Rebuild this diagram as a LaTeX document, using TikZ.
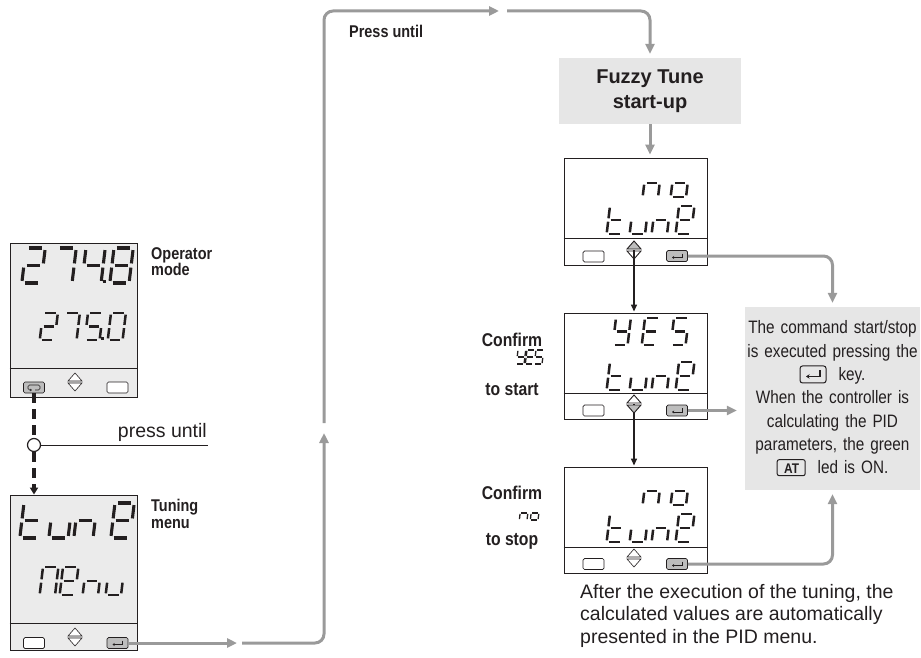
\documentclass[tikz,border=0pt]{standalone}
\usepackage{fontspec}
\setmainfont{Liberation Sans}
\newfontfamily\condf[FakeStretch=0.85]{Liberation Sans}
\usetikzlibrary{arrows.meta,calc}
\definecolor{lineGrey}{HTML}{9A9A9A}
\definecolor{boxGrey}{HTML}{E6E6E6}
\definecolor{lcdbg}{HTML}{EBEBEB}
\definecolor{keyfill}{HTML}{BDBDBD}
\definecolor{ink}{HTML}{231F20}
% seven segment paths (unit: digit height, y downwards)
\def\sega{(0.08,0)--(0.47,0)}
\def\segb{(0.55,0.06)--(0.55,0.44)}
\def\segc{(0.55,0.56)--(0.55,0.94)}
\def\segd{(0.08,1)--(0.47,1)}
\def\sege{(0,0.56)--(0,0.94)}
\def\segf{(0,0.06)--(0,0.44)}
\def\segg{(0.08,0.5)--(0.47,0.5)}
\newcommand\lcdch[5]{%
  \begin{scope}[shift={(#1,#2)}, x={(#3pt,0pt)}, y={({-0.12*#3pt},{-#3pt})}, line width=#4pt, draw=ink, line cap=butt]
    \foreach \s in {#5}{\expandafter\draw\csname seg\s\endcsname;}
  \end{scope}}
\newcommand\chev[4]{% coordinate, up fill, down fill, line widths
  \draw[ink, line width=#4pt, fill=#2] ($(#1)+(-7,-1)$) -- ($(#1)+(0,-9)$) -- ($(#1)+(7,-1)$) -- cycle;
  \draw[ink, line width=#4pt, fill=#3] ($(#1)+(-7,1)$) -- ($(#1)+(0,9)$) -- ($(#1)+(7,1)$) -- cycle;}
\newcommand\entsym[1]{%
  \draw[ink, line width=0.7pt, -{Stealth[length=2.2pt,width=3pt]}] ([xshift=5pt,yshift=2.5pt]#1.center) -- ([xshift=5pt,yshift=-1.5pt]#1.center) -- ([xshift=-5pt,yshift=-1.5pt]#1.center);}
\newcommand\entkey{\tikz[baseline=-6pt, x=1pt, y=1pt]{\draw[ink, line width=1pt, rounded corners=2.5pt] (-13,-8.5) rectangle (13,8.5); \draw[ink, line width=1.3pt, -{Stealth[length=3.5pt,width=4.5pt]}] (7,4) -- (7,-2) -- (-7,-2);}}
\newcommand\atkey{\tikz[baseline=-6pt, x=1pt, y=1pt]{\draw[ink, line width=1pt, rounded corners=2pt] (-14,-8) rectangle (14,8);}\hspace{-28pt}\makebox[28pt]{\condf\bfseries\fontsize{14}{14}\selectfont AT}}
\tikzset{
  lcd/.style={draw=ink, line width=0.9pt, inner sep=0pt},
  lcdsplit/.style={draw=ink, line width=0.9pt},
  keyb/.style={draw=ink, line width=0.7pt, rounded corners=1.5pt, minimum width=21pt, minimum height=11pt, inner sep=0pt, fill=white},
  keyg/.style={keyb, fill=keyfill},
  gpath/.style={draw=lineGrey, line width=3pt, -{Triangle[length=10pt,width=9pt]}},
  barrow/.style={draw=ink, line width=1.4pt, -{Triangle[length=7pt,width=6pt]}},
  dashline/.style={draw=ink, line width=3.2pt, dash pattern=on 10pt off 6pt},
  lbl/.style={inner sep=0pt, align=left, font=\condf\bfseries\fontsize{17}{16.5}\selectfont},
  clbl/.style={inner sep=0pt, font=\condf\bfseries\fontsize{18.5}{20}\selectfont},
  greybox/.style={fill=boxGrey, inner sep=0pt}
}
\begin{document}
\begin{tikzpicture}[x=1pt, y=-1pt, color=ink]
\useasboundingbox (0,0) rectangle (921,658);

% ---------------- Operator mode display
\node[lcd, fill=lcdbg, minimum width=127pt, minimum height=154pt] (op) at (73.5,320) {};
\draw[lcdsplit] ([yshift=29pt]op.south west) -- ([yshift=29pt]op.south east);
\lcdch{26}{248}{35}{3.1}{a,b,g,e,d}
\lcdch{57}{248}{35}{3.1}{a,b,c}
\lcdch{86}{248}{35}{3.1}{f,g,b,c}
\lcdch{114}{248}{35}{3.1}{a,b,c,d,e,f,g}
\fill[ink] (102.5,280) rectangle (105.5,283);
\lcdch{43}{313}{27}{2.5}{a,b,g,e,d}
\lcdch{65}{313}{27}{2.5}{a,b,c}
\lcdch{88}{313}{27}{2.5}{a,f,g,c,d}
\lcdch{111}{313}{27}{2.5}{a,b,c,d,e,f}
\fill[ink] (101,337) rectangle (104,340);
\node[keyg] (opk1) at (34,387.5) {};
\draw[ink, line width=0.7pt, rounded corners=1.5pt, -{Stealth[length=2pt,width=2.6pt]}] ([xshift=1pt,yshift=-2.5pt]opk1.center) -- ([xshift=6pt,yshift=-2.5pt]opk1.center) -- ([xshift=6pt,yshift=2.5pt]opk1.center) -- ([xshift=-6pt,yshift=2.5pt]opk1.center) -- ([xshift=-6pt,yshift=-2.5pt]opk1.center) -- ([xshift=-2pt,yshift=-2.5pt]opk1.center);
\coordinate (opud) at (75,382);
\chev{opud}{white}{white}{0.6}
\node[keyb] (opk3) at (117.5,387.5) {};
\node[lbl, anchor=north west] (oplbl) at (151,247) {Operator\\mode};

% dashed connection
\node[circle, draw=ink, line width=1.2pt, fill=white, minimum size=13pt, inner sep=0pt] (c1) at (34,445) {};
\draw[dashline] (opk1.south) -- (c1.north);
\coordinate (pu) at (208,445);
\draw[ink, line width=1pt] (c1.east) -- (pu);
\node[anchor=base east, inner sep=0pt, font=\fontsize{19.5}{22}\selectfont] (putxt) at (207,437) {press until};

% ---------------- Tuning menu display
\node[lcd, fill=lcdbg, minimum width=127pt, minimum height=155pt] (tun) at (73.5,572.5) {};
\draw[dashline, -{Triangle[length=7pt,width=8pt]}] (c1.south) -- (tun.north -| c1);
\draw[lcdsplit] ([yshift=27pt]tun.south west) -- ([yshift=27pt]tun.south east);
\lcdch{24}{503}{35}{3.1}{f,e,d,g}
\lcdch{53}{503}{35}{3.1}{e,d,c}
\lcdch{78}{503}{35}{3.1}{e,g,c}
\lcdch{115}{503}{35}{3.1}{a,b,f,g,e,d}
\lcdch{43}{567}{28}{2.5}{a,b,c,e,f}
\lcdch{63}{567}{28}{2.5}{a,b,f,g,e,d}
\lcdch{86}{567}{28}{2.5}{e,g,c}
\lcdch{109}{567}{28}{2.5}{e,d,c}
\node[keyb] (tk1) at (34,643) {};
\coordinate (tud) at (75,637);
\chev{tud}{white}{white}{0.6}
\node[keyg] (tk3) at (117.5,643) {};
\entsym{tk3}
\node[lbl, anchor=north west] (tulbl) at (151,499) {Tuning\\menu};

% ---------------- grey route to Fuzzy Tune
\node[greybox, minimum width=182pt, minimum height=66pt, align=center, font=\bfseries\fontsize{20}{25}\selectfont] (fz) at (650,91) {Fuzzy Tune\\start-up};
\coordinate (g1) at (237,0);
\coordinate (g1b) at (242,0);
\coordinate (g2) at (324,433);
\coordinate (g2b) at (324,423);
\coordinate (g3) at (499,11);
\coordinate (g3b) at (507,11);
\draw[gpath] (tk3.east) -- (tk3.east -| g1);
\draw[gpath, rounded corners=9pt] (tk3.east -| g1b) -| (g2);
\draw[gpath, rounded corners=9pt] (g2b) |- (g3);
\draw[gpath, rounded corners=9pt] (g3b) -| ([yshift=4pt]fz.north);
\node[lbl, anchor=west] (pressu) at (349,31) {Press until};

% ---------------- right displays
\node[lcd, fill=white, minimum width=143pt, minimum height=107pt] (d1) at (635.5,211.5) {};
\draw[lcdsplit] ([yshift=27pt]d1.south west) -- ([yshift=27pt]d1.south east);
\node[lcd, fill=white, minimum width=143pt, minimum height=106pt] (d2) at (635.5,366) {};
\draw[lcdsplit] ([yshift=26pt]d2.south west) -- ([yshift=26pt]d2.south east);
\node[lcd, fill=white, minimum width=143pt, minimum height=106pt] (d3) at (635.5,520) {};
\draw[lcdsplit] ([yshift=26pt]d3.south west) -- ([yshift=26pt]d3.south east);

\draw[gpath] (fz.south) -- ([yshift=3pt]fz.south |- d1.north);

% d1: no / tunE
\lcdch{646}{169}{28}{2.5}{e,g,c}
\lcdch{674}{169}{28}{2.5}{g,c,d,e}
\lcdch{610}{206}{28}{2.5}{f,e,d,g}
\lcdch{633}{206}{28}{2.5}{e,d,c}
\lcdch{655}{206}{28}{2.5}{e,g,c}
\lcdch{679}{206}{28}{2.5}{a,b,f,g,e,d}
\node[keyb] (d1k1) at (593.5,256.5) {};
\coordinate (d1ud) at (634,250);
\node[keyg] (d1k3) at (677,256) {};
\entsym{d1k3}

% d2: YES / tunE
\lcdch{616}{318}{27}{2.5}{f,b,g,c,d}
\lcdch{645}{318}{27}{2.5}{a,f,g,e,d}
\lcdch{674}{318}{27}{2.5}{a,f,g,c,d}
\lcdch{610}{362}{28}{2.5}{f,e,d,g}
\lcdch{633}{362}{28}{2.5}{e,d,c}
\lcdch{655}{362}{28}{2.5}{e,g,c}
\lcdch{679}{362}{28}{2.5}{a,b,f,g,e,d}
\node[keyb] (d2k1) at (593.5,410.5) {};
\coordinate (d2ud) at (634,404);
\node[keyg] (d2k3) at (677,410.5) {};
\entsym{d2k3}

% d3: no / tunE
\lcdch{646}{477}{28}{2.5}{e,g,c}
\lcdch{674}{477}{28}{2.5}{g,c,d,e}
\lcdch{610}{514}{28}{2.5}{f,e,d,g}
\lcdch{633}{514}{28}{2.5}{e,d,c}
\lcdch{655}{514}{28}{2.5}{e,g,c}
\lcdch{679}{514}{28}{2.5}{a,b,f,g,e,d}
\node[keyb] (d3k1) at (593.5,564) {};
\coordinate (d3ud) at (634,558);
\node[keyg] (d3k3) at (677,564) {};
\entsym{d3k3}

% black arrows
\draw[barrow] (d1ud) -- ([yshift=1pt]d1ud |- d2.north);
\draw[barrow] (d2ud) -- ([yshift=1pt]d2ud |- d3.north);
\chev{d1ud}{keyfill}{white}{0.9}
\chev{d2ud}{white}{keyfill}{0.9}
\chev{d3ud}{white}{white}{0.6}
\draw[ink, line width=1.4pt] ([yshift=-1pt]d1ud) -- ([yshift=-9pt]d1ud);
\draw[ink, line width=1.4pt] ([yshift=-9pt]d2ud) -- ([yshift=-10pt]d2ud);

% labels left of right displays
\node[clbl] (cf1) at (512,340) {Confirm};
\lcdch{518}{350}{14}{1.3}{f,b,g,c,d}
\lcdch{527}{350}{14}{1.3}{a,f,g,e,d}
\lcdch{536}{350}{14}{1.3}{a,f,g,c,d}
\node[clbl] (ts1) at (512,390) {to start};
\node[clbl] (cf2) at (512,493) {Confirm};
\lcdch{521}{506}{14}{1.3}{e,g,c}
\lcdch{532}{506}{14}{1.3}{g,c,d,e}
\node[clbl] (ts2) at (512,541) {to stop};

% info box
\node[greybox, minimum width=175pt, minimum height=183pt, text width=173pt, align=center, font=\condf\fontsize{18}{23.3}\selectfont] (info) at (832.5,398.5)
  {The command start/stop\\is executed pressing the\\\entkey\ \ key.\\When the controller is\\calculating the PID\\parameters, the green\\\atkey\hspace{12pt}led is ON.};
\draw[gpath, rounded corners=9pt] (d1k3.east) -| ([yshift=4pt]info.north);
\draw[gpath] (d2k3.east) -- ([xshift=-8pt]info.west |- d2k3.east);
\draw[gpath, rounded corners=9pt] (d3k3.east) -| ([yshift=-4pt]info.south);

% bottom note
\node[anchor=north west, inner sep=0pt, align=left, font=\fontsize{19.5}{22.5}\selectfont] (after) at (580,584)
  {After the execution of the tuning, the\\calculated values are automatically\\presented in the PID menu.};
\end{tikzpicture}
\end{document}
